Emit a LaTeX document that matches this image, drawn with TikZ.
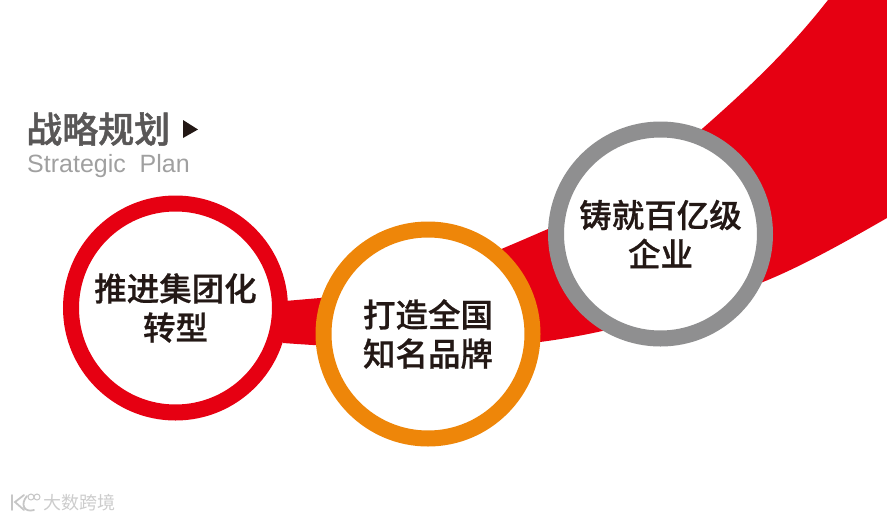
\documentclass[tikz,border=0pt]{standalone}
\usepackage{fontspec}
\setmainfont{Liberation Sans}
\newfontfamily\cjk{Noto Sans CJK SC}
\newfontfamily\cjkmed[FakeBold=0.7]{Noto Sans CJK SC Medium}
\newfontfamily\cjktitle[FakeBold=1.2]{Noto Sans CJK SC Medium}
\definecolor{bandred}{HTML}{E60012}
\definecolor{ringorange}{HTML}{EE8609}
\definecolor{ringgray}{HTML}{8F8F90}
\definecolor{titlegray}{HTML}{595757}
\definecolor{subgray}{HTML}{A0A0A0}
\definecolor{darktext}{HTML}{231815}
\tikzset{
    ring/.style={draw,circle,line width=16pt,minimum size=209pt,inner sep=0pt,fill=white,align=center,
        text=darktext,font=\cjkmed\fontsize{32.5}{39}\selectfont},
    mark logo/.style={draw=gray!45,line width=1.8pt,line cap=round}
}
\begin{document}
\begin{tikzpicture}[x=1pt,y=-1pt]
    \useasboundingbox (0,0) rectangle (887,520);

    \fill[bandred] (285,301) -- (320,298) -- (400,283) .. controls (450,272) and (490,254) .. (548,229)
        .. controls (610,203) and (670,160) .. (703,128) .. controls (760,78) and (795,42) .. (828,0)
        -- (887,0) -- (887,218) .. controls (840,245) and (800,267) .. (763,282)
        .. controls (690,310) and (610,333) .. (540,342) .. controls (470,352) and (380,350) .. (283,343) -- cycle;

    \node[ring,draw=bandred] (c1) at (175.5,308) {推进集团化\\转型};
    \node[ring,draw=ringorange] (c2) at (428,334) {打造全国\\知名品牌};
    \node[ring,draw=ringgray] (c3) at (660.5,234) {铸就百亿级\\企业};

    \node[anchor=west,inner sep=0pt,text=titlegray,font=\cjktitle\fontsize{36}{36}\selectfont] (title) at (26,129) {战略规划};
    \node[anchor=west,inner sep=0pt,text=subgray,font=\fontsize{25}{26}\selectfont] (subtitle) at (27,166) {Strategic\ \ Plan};
    \fill[darktext] (183,120) -- (198,129.5) -- (183,138) -- cycle;

    \node[anchor=west,inner sep=0pt,text=gray!40,font=\cjk\fontsize{18}{18}\selectfont] (mark) at (43,503) {大数跨境};
    \draw[mark logo] (12,495) -- (12,510) (24,495) -- (15,502) -- (24,510);
    \draw[mark logo] (27,496) .. controls (20,504) and (24,513) .. (34,510);
    \draw[gray!45,line width=1pt] (31,497) circle (3pt) (37,497) circle (3pt);
\end{tikzpicture}
\end{document}
